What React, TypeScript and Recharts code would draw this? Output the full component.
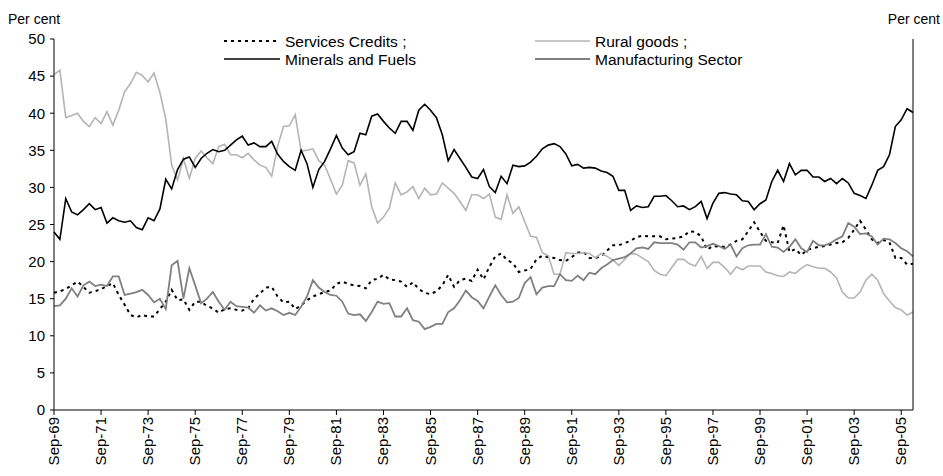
import { Line, LineChart, XAxis, YAxis } from "recharts";

// quarterly observations, Sep-69 .. Mar-06
const CATEGORIES = [
  "Sep-69", "Dec-69", "Mar-70", "Jun-70", "Sep-70", "Dec-70", "Mar-71", "Jun-71",
  "Sep-71", "Dec-71", "Mar-72", "Jun-72", "Sep-72", "Dec-72", "Mar-73", "Jun-73",
  "Sep-73", "Dec-73", "Mar-74", "Jun-74", "Sep-74", "Dec-74", "Mar-75", "Jun-75",
  "Sep-75", "Dec-75", "Mar-76", "Jun-76", "Sep-76", "Dec-76", "Mar-77", "Jun-77",
  "Sep-77", "Dec-77", "Mar-78", "Jun-78", "Sep-78", "Dec-78", "Mar-79", "Jun-79",
  "Sep-79", "Dec-79", "Mar-80", "Jun-80", "Sep-80", "Dec-80", "Mar-81", "Jun-81",
  "Sep-81", "Dec-81", "Mar-82", "Jun-82", "Sep-82", "Dec-82", "Mar-83", "Jun-83",
  "Sep-83", "Dec-83", "Mar-84", "Jun-84", "Sep-84", "Dec-84", "Mar-85", "Jun-85",
  "Sep-85", "Dec-85", "Mar-86", "Jun-86", "Sep-86", "Dec-86", "Mar-87", "Jun-87",
  "Sep-87", "Dec-87", "Mar-88", "Jun-88", "Sep-88", "Dec-88", "Mar-89", "Jun-89",
  "Sep-89", "Dec-89", "Mar-90", "Jun-90", "Sep-90", "Dec-90", "Mar-91", "Jun-91",
  "Sep-91", "Dec-91", "Mar-92", "Jun-92", "Sep-92", "Dec-92", "Mar-93", "Jun-93",
  "Sep-93", "Dec-93", "Mar-94", "Jun-94", "Sep-94", "Dec-94", "Mar-95", "Jun-95",
  "Sep-95", "Dec-95", "Mar-96", "Jun-96", "Sep-96", "Dec-96", "Mar-97", "Jun-97",
  "Sep-97", "Dec-97", "Mar-98", "Jun-98", "Sep-98", "Dec-98", "Mar-99", "Jun-99",
  "Sep-99", "Dec-99", "Mar-00", "Jun-00", "Sep-00", "Dec-00", "Mar-01", "Jun-01",
  "Sep-01", "Dec-01", "Mar-02", "Jun-02", "Sep-02", "Dec-02", "Mar-03", "Jun-03",
  "Sep-03", "Dec-03", "Mar-04", "Jun-04", "Sep-04", "Dec-04", "Mar-05", "Jun-05",
  "Sep-05", "Dec-05", "Mar-06",
];

const SERVICES_CREDITS = [
  15.8, 16.0, 16.3, 16.8, 17.3, 16.6, 15.8, 16.0,
  16.3, 16.7, 17.1, 15.5, 14.2, 12.8, 12.5, 12.8,
  12.6, 12.6, 13.6, 14.6, 16.2, 14.8, 14.9, 13.5,
  14.6, 14.6, 14.0, 13.7, 13.1, 13.6, 13.7, 13.5,
  13.4, 13.7, 15.0, 15.7, 16.5, 16.6, 15.3, 14.5,
  14.6, 13.6, 14.1, 14.8, 15.3, 15.6, 15.9, 16.1,
  17.0, 17.3, 17.0, 16.8, 16.7, 16.4, 17.5, 17.7,
  18.2, 17.6, 17.5, 17.3, 16.6, 17.2, 16.3, 15.8,
  15.6, 16.0, 16.8, 18.2, 16.6, 17.5, 17.7, 17.4,
  18.9, 17.6, 19.3, 20.7, 21.1, 20.2, 19.8, 18.6,
  18.8, 19.0, 20.3, 20.8, 20.6, 20.5, 20.2, 20.1,
  20.6, 21.2, 21.3, 20.5, 20.5, 20.7, 21.5, 22.2,
  22.2, 22.5, 22.8, 23.3, 23.5, 23.4, 23.4, 23.4,
  23.0, 23.1, 23.2, 23.4, 24.1, 24.0, 23.4, 21.6,
  22.1, 22.0, 22.0, 22.3, 22.8, 23.0, 24.1, 25.3,
  24.0, 22.8, 22.6, 22.5, 24.9, 21.3, 21.7, 20.9,
  21.6, 21.8, 22.0, 22.1, 22.3, 22.5, 22.6, 23.2,
  24.3, 25.5, 24.3, 23.0, 22.5, 22.9, 22.6, 20.5,
  20.5, 19.6, 19.7,
];

const RURAL_GOODS = [
  45.2, 45.8, 39.4, 39.7, 40.0, 38.9, 38.2, 39.4,
  38.6, 40.2, 38.4, 40.4, 42.9, 44.0, 45.5, 45.1,
  44.2, 45.4, 42.8, 39.2, 33.0, 31.0, 33.9, 31.2,
  33.9, 34.9, 34.0, 33.2, 35.5, 35.8, 34.4, 34.4,
  34.0, 34.6, 33.7, 33.0, 32.7, 31.5, 35.5, 38.2,
  38.3, 39.8, 34.9, 35.0, 35.2, 33.6, 33.0, 31.1,
  29.1, 30.3, 33.6, 33.3, 30.3, 31.8, 27.4, 25.2,
  26.0, 27.2, 30.6, 29.0, 29.4, 30.1, 28.5, 29.9,
  29.0, 29.1, 30.6, 29.9, 29.2, 28.1, 26.9, 29.0,
  29.0, 28.5, 29.1, 26.0, 25.7, 29.0, 26.5, 27.4,
  25.4, 23.4, 23.3, 21.2, 20.8, 18.3, 18.3, 21.2,
  21.1, 21.1, 21.2, 21.1, 20.5, 21.1, 20.7, 20.2,
  19.5, 20.3, 21.1, 21.0, 20.5, 20.0, 18.8, 18.3,
  18.1, 19.2, 20.3, 20.3, 19.7, 19.4, 20.7, 19.1,
  19.9, 19.9, 19.2, 18.3, 19.3, 18.9, 19.4, 19.4,
  19.4, 18.6, 18.4, 18.1, 18.0, 18.6, 18.4, 19.1,
  19.6, 19.3, 19.1, 19.1, 18.6, 17.8, 15.9, 15.1,
  15.1, 15.9, 17.5, 18.3, 17.5, 15.7, 14.7, 13.8,
  13.5, 12.8, 13.2,
];

const MINERALS_FUELS = [
  24.0, 23.0, 28.5, 26.7, 26.3, 27.0, 27.8, 27.0,
  27.3, 25.2, 25.9, 25.5, 25.3, 25.5, 24.6, 24.3,
  25.9, 25.5, 27.1, 31.1, 29.8, 32.4, 33.8, 34.1,
  32.7, 33.9, 34.6, 35.1, 34.8, 35.0, 35.7, 36.4,
  36.9, 35.7, 36.0, 35.5, 35.5, 36.2, 34.5, 33.5,
  32.8, 32.3, 35.0, 33.2, 30.0, 32.4, 33.5, 35.2,
  37.0, 35.3, 34.4, 34.8, 37.3, 37.1, 39.6, 39.9,
  38.9, 38.0, 37.3, 38.9, 38.9, 37.7, 40.4, 41.2,
  40.4, 39.4, 37.1, 33.6, 35.1, 33.9, 32.7, 31.4,
  31.2, 32.4, 30.1, 29.3, 31.5, 30.5, 33.0, 32.8,
  32.9, 33.4, 34.2, 35.2, 35.7, 35.9, 35.5, 34.5,
  32.9, 33.1, 32.6, 32.7, 32.6, 32.2, 32.0, 31.5,
  29.6, 29.6, 26.9, 27.5, 27.3, 27.4, 28.8, 28.8,
  28.9, 28.2, 27.4, 27.5, 27.0, 27.4, 28.1, 25.8,
  27.9, 29.2, 29.3, 29.1, 29.0, 28.2, 28.1, 27.0,
  27.8, 28.3, 30.8, 32.3, 30.8, 33.2, 31.7, 32.3,
  32.3, 31.4, 31.4, 30.8, 31.2, 30.5, 31.2, 30.6,
  29.2, 28.9, 28.5, 30.3, 32.3, 32.8, 34.4, 38.2,
  39.1, 40.6, 40.1,
];

const MANUFACTURING_SECTOR = [
  14.0, 14.1, 15.0, 16.4, 15.3, 16.8, 17.3, 16.7,
  16.9, 16.7, 18.0, 18.0, 15.5, 15.7, 15.9, 16.2,
  15.5, 14.5, 15.0, 13.6, 19.5, 20.1, 15.0, 19.1,
  16.8, 14.4, 15.0, 15.9, 14.6, 13.5, 14.6, 14.0,
  13.9, 13.8, 13.1, 14.1, 13.4, 13.7, 13.3, 12.8,
  13.1, 12.8, 13.9, 15.3, 17.5, 16.5, 15.9, 15.5,
  15.4, 14.6, 13.0, 12.8, 12.9, 12.0, 13.2, 14.6,
  14.3, 14.4, 12.6, 12.6, 13.7, 12.1, 11.9, 10.9,
  11.2, 11.6, 11.6, 13.2, 13.7, 14.8, 16.1, 15.2,
  14.7, 13.7, 15.3, 16.8, 15.5, 14.5, 14.6, 15.1,
  17.1, 17.9, 15.6, 16.5, 16.7, 16.7, 18.3, 17.5,
  17.4, 18.1, 17.5, 18.5, 18.3, 19.1, 19.6, 20.2,
  20.4, 20.6, 21.1, 21.8, 21.9, 21.7, 22.6, 22.5,
  22.5, 22.5, 22.3, 21.6, 22.6, 22.6, 21.9, 22.1,
  22.4, 22.1, 21.7, 22.3, 20.7, 21.8, 22.2, 22.3,
  22.3, 23.7, 22.0, 21.9, 21.3, 22.0, 23.0, 21.8,
  21.3, 22.8, 22.2, 22.2, 22.5, 23.0, 23.4, 25.2,
  24.7, 23.7, 23.8, 23.4, 22.3, 23.1, 23.0, 22.5,
  21.8, 21.4, 20.7,
];

const Y_TICKS = [0, 5, 10, 15, 20, 25, 30, 35, 40, 45, 50];

const FONT = "'Liberation Sans', Arial, sans-serif";
const W = 943;
const H = 476;

function XTick(props: any) {
  const { x, y, payload } = props;
  const tx = x + 5;
  return (
    <text
      x={tx}
      y={y}
      transform={`rotate(-90 ${tx} ${y})`}
      textAnchor="end"
      fontSize={15}
      fontFamily={FONT}
      fill="#000"
    >
      {payload.value}
    </text>
  );
}

function Legend() {
  const rows = [
    { x1: 224, x2: 280, y: 41, label: "Services Credits ;", color: "#000", dash: "3 4", w: 2 },
    { x1: 535, x2: 590, y: 41, label: "Rural goods ;", color: "#b4b4b4", dash: undefined, w: 1.6 },
    { x1: 224, x2: 280, y: 59, label: "Minerals and Fuels", color: "#000", dash: undefined, w: 1.6 },
    { x1: 535, x2: 590, y: 59, label: "Manufacturing Sector", color: "#808080", dash: undefined, w: 1.8 },
  ];
  return (
    <svg width={W} height={H} style={{ position: "absolute", left: 0, top: 0, pointerEvents: "none" }}>
      <text x={8} y={24} fontSize={14} fontFamily={FONT} fill="#000">Per cent</text>
      <text x={940} y={24} fontSize={14} fontFamily={FONT} fill="#000" textAnchor="end">Per cent</text>
      {rows.map((r) => (
        <g key={r.label}>
          <line x1={r.x1} x2={r.x2} y1={r.y} y2={r.y} stroke={r.color} strokeWidth={r.w} strokeDasharray={r.dash} />
          <text x={r.x2 + 5} y={r.y + 5.5} fontSize={15.5} fontFamily={FONT} fill="#000">{r.label}</text>
        </g>
      ))}
    </svg>
  );
}

export default function App() {
  const data = CATEGORIES.map((c, i) => ({
    c,
    services: SERVICES_CREDITS[i],
    rural: RURAL_GOODS[i],
    minerals: MINERALS_FUELS[i],
    manufacturing: MANUFACTURING_SECTOR[i],
  }));

  const yTick = { fontSize: 15, fill: "#000", fontFamily: FONT };

  return (
    <div style={{ position: "absolute", left: 0, top: 0, width: W, height: H, background: "#fff" }}>
      <LineChart width={W} height={H} data={data} margin={{ top: 39, right: 0, bottom: 0, left: 0 }}>
        <XAxis
          dataKey="c"
          scale="point"
          interval={7}
          height={66}
          tickSize={5}
          tickMargin={2}
          padding={{ left: 0, right: 0 }}
          axisLine={{ stroke: "#000" }}
          tickLine={{ stroke: "#000" }}
          tick={<XTick />}
        />
        <YAxis
          yAxisId="left"
          domain={[0, 50]}
          ticks={Y_TICKS}
          interval={0}
          width={54}
          tickSize={4}
          tickMargin={5}
          axisLine={{ stroke: "#000" }}
          tickLine={{ stroke: "#000" }}
          tick={yTick}
        />
        <YAxis
          yAxisId="right"
          orientation="right"
          domain={[0, 50]}
          ticks={Y_TICKS}
          interval={0}
          width={30}
          tickSize={4}
          tickMargin={8}
          axisLine={{ stroke: "#000" }}
          tickLine={{ stroke: "#000" }}
          tick={yTick}
        />
        <Line yAxisId="left" type="linear" dataKey="services" stroke="#000" strokeWidth={2} strokeDasharray="3 4" dot={false} activeDot={false} isAnimationActive={false} />
        <Line yAxisId="left" type="linear" dataKey="rural" stroke="#b4b4b4" strokeWidth={1.6} dot={false} activeDot={false} isAnimationActive={false} />
        <Line yAxisId="left" type="linear" dataKey="minerals" stroke="#000" strokeWidth={1.6} dot={false} activeDot={false} isAnimationActive={false} />
        <Line yAxisId="left" type="linear" dataKey="manufacturing" stroke="#808080" strokeWidth={1.8} dot={false} activeDot={false} isAnimationActive={false} />
      </LineChart>
      <Legend />
    </div>
  );
}
